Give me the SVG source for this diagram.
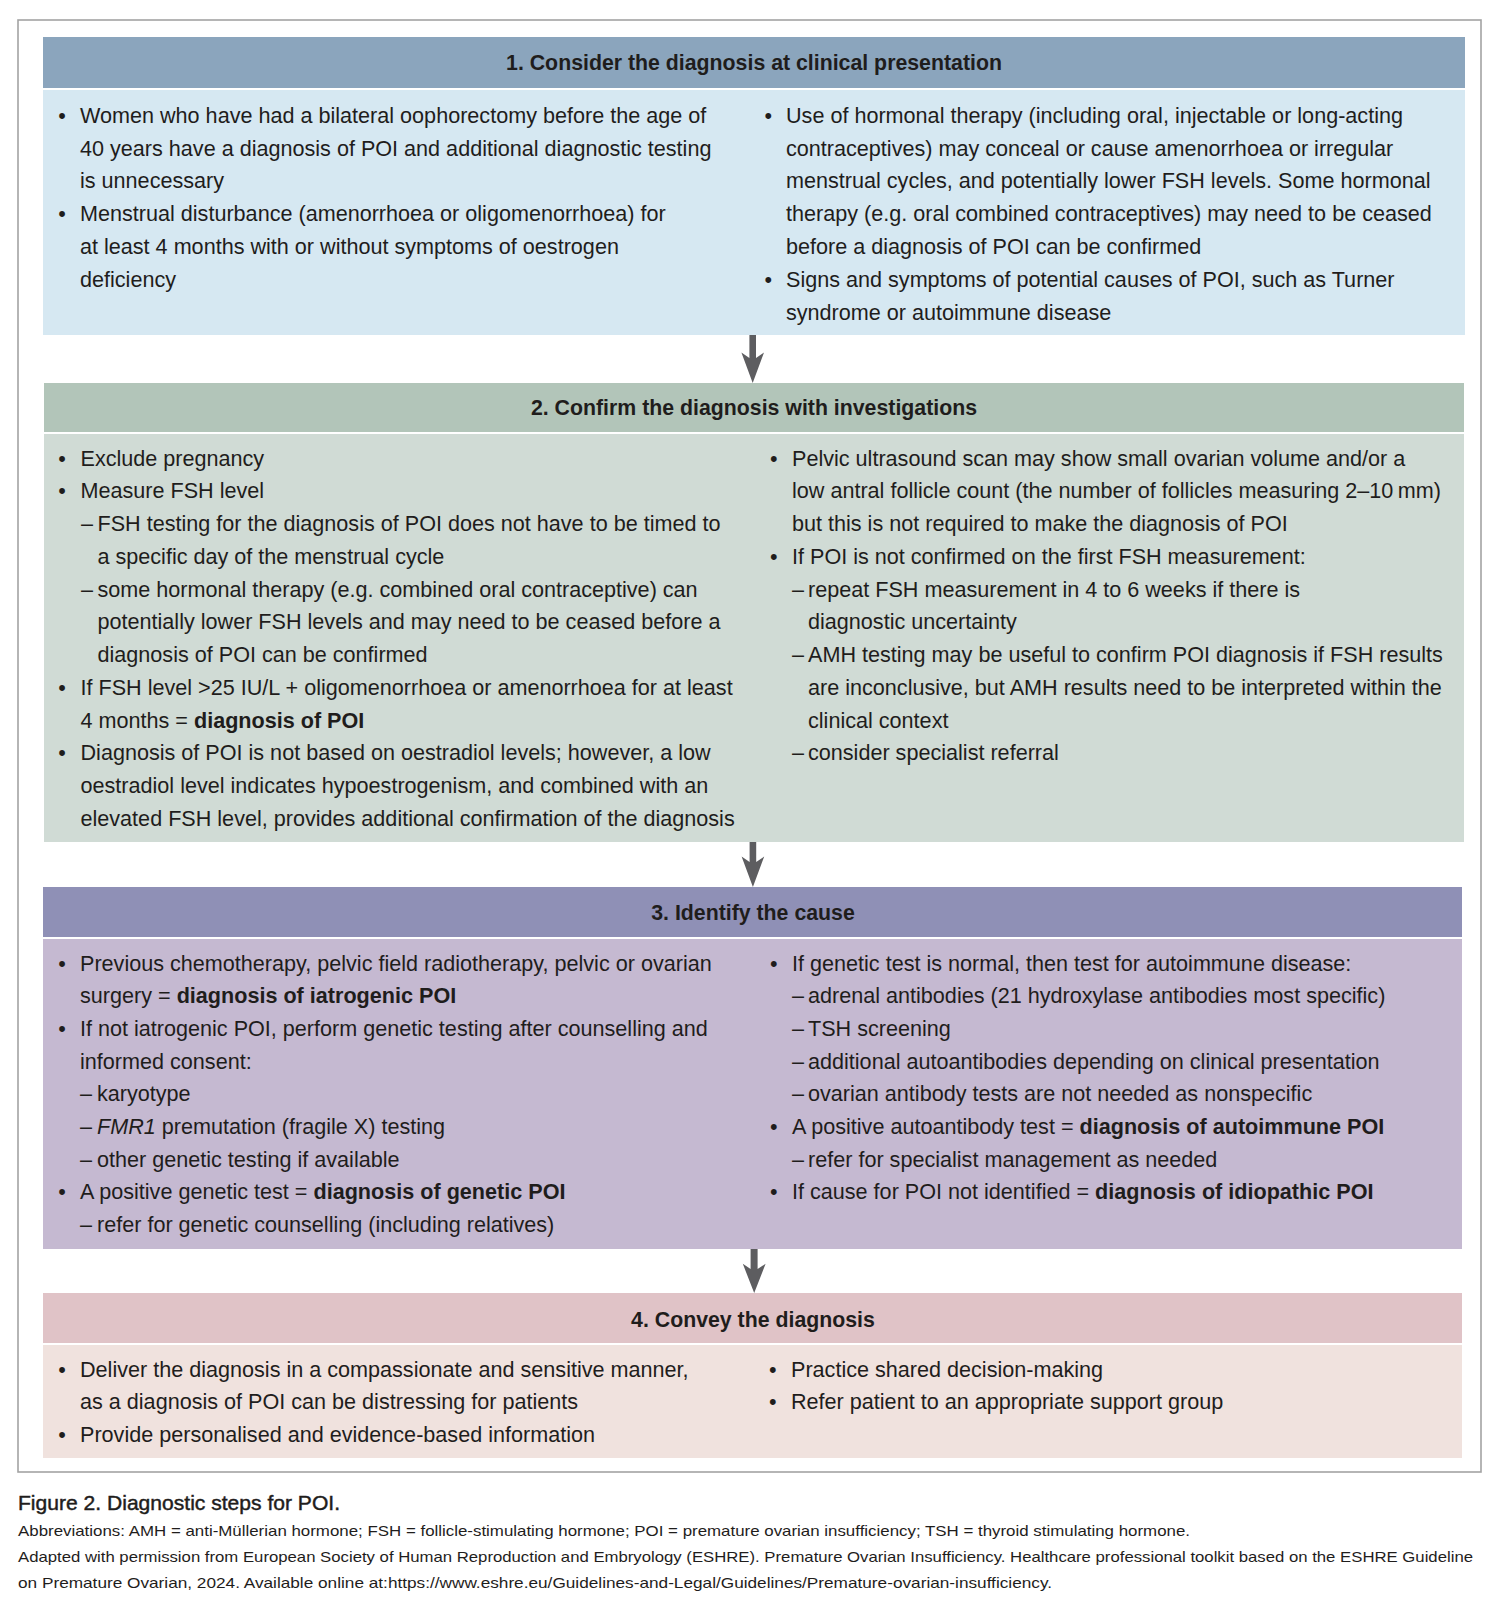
<svg xmlns="http://www.w3.org/2000/svg" width="1500" height="1612" viewBox="0 0 1500 1612">
<style>
.h{font-family:"Liberation Sans",Arial,sans-serif;font-size:21.3px;font-weight:bold;fill:#1f1d1c;text-anchor:middle}
.t{font-family:"Liberation Sans",Arial,sans-serif;font-size:21.6px;fill:#1f1d1c}
.b{font-weight:bold}
.i{font-style:italic}
.cap{font-family:"Liberation Sans",Arial,sans-serif;font-size:21px;fill:#1f1d1c;stroke:#1f1d1c;stroke-width:0.45px}
.fn{font-family:"Liberation Sans",Arial,sans-serif;font-size:15px;fill:#1f1d1c}
.arrow{fill:#5d5d60}
</style>
<rect width="1500" height="1612" fill="#ffffff"/>
<rect x="18" y="20" width="1463" height="1452" fill="none" stroke="#a3a3a3" stroke-width="1.6"/>

<g id="step1">
<rect x="43" y="37" width="1422" height="51" fill="#8ba5bd"/>
<rect x="43" y="90" width="1422" height="245" fill="#d6e8f2"/>
<text class="h" x="754" y="70">1. Consider the diagnosis at clinical presentation</text>
<text class="t" y="122.7"><tspan x="58.2">•</tspan><tspan x="80">Women who have had a bilateral oophorectomy before the age of</tspan></text>
<text class="t" x="80" y="155.5">40 years have a diagnosis of POI and additional diagnostic testing</text>
<text class="t" x="80" y="188.3">is unnecessary</text>
<text class="t" y="221.1"><tspan x="58.2">•</tspan><tspan x="80">Menstrual disturbance (amenorrhoea or oligomenorrhoea) for</tspan></text>
<text class="t" x="80" y="253.9">at least 4 months with or without symptoms of oestrogen</text>
<text class="t" x="80" y="286.7">deficiency</text>
<text class="t" y="122.7"><tspan x="764.5">•</tspan><tspan x="786">Use of hormonal therapy (including oral, injectable or long-acting</tspan></text>
<text class="t" x="786" y="155.5">contraceptives) may conceal or cause amenorrhoea or irregular</text>
<text class="t" x="786" y="188.3">menstrual cycles, and potentially lower FSH levels. Some hormonal</text>
<text class="t" x="786" y="221.1">therapy (e.g. oral combined contraceptives) may need to be ceased</text>
<text class="t" x="786" y="253.9">before a diagnosis of POI can be confirmed</text>
<text class="t" y="286.7"><tspan x="764.5">•</tspan><tspan x="786">Signs and symptoms of potential causes of POI, such as Turner</tspan></text>
<text class="t" x="786" y="319.5">syndrome or autoimmune disease</text>
</g>

<g id="step2">
<rect x="44" y="383" width="1420" height="49" fill="#b2c5b9"/>
<rect x="44" y="434" width="1420" height="408" fill="#d0dbd5"/>
<text class="h" x="754" y="415">2. Confirm the diagnosis with investigations</text>
<text class="t" y="465.7"><tspan x="58.2">•</tspan><tspan x="80.5">Exclude pregnancy</tspan></text>
<text class="t" y="498.45"><tspan x="58.2">•</tspan><tspan x="80.5">Measure FSH level</tspan></text>
<text class="t" y="531.2"><tspan x="81">–</tspan><tspan x="97.5">FSH testing for the diagnosis of POI does not have to be timed to</tspan></text>
<text class="t" x="97.5" y="563.95">a specific day of the menstrual cycle</text>
<text class="t" y="596.7"><tspan x="81">–</tspan><tspan x="97.5">some hormonal therapy (e.g. combined oral contraceptive) can</tspan></text>
<text class="t" x="97.5" y="629.45">potentially lower FSH levels and may need to be ceased before a</text>
<text class="t" x="97.5" y="662.2">diagnosis of POI can be confirmed</text>
<text class="t" y="694.95"><tspan x="58.2">•</tspan><tspan x="80.5">If FSH level &gt;25 IU/L + oligomenorrhoea or amenorrhoea for at least</tspan></text>
<text class="t" x="80.5" y="727.7">4 months = <tspan class="b">diagnosis of POI</tspan></text>
<text class="t" y="760.45"><tspan x="58.2">•</tspan><tspan x="80.5">Diagnosis of POI is not based on oestradiol levels; however, a low</tspan></text>
<text class="t" x="80.5" y="793.2">oestradiol level indicates hypoestrogenism, and combined with an</text>
<text class="t" x="80.5" y="825.95">elevated FSH level, provides additional confirmation of the diagnosis</text>
<text class="t" y="465.7"><tspan x="770">•</tspan><tspan x="792">Pelvic ultrasound scan may show small ovarian volume and/or a</tspan></text>
<text class="t" x="792" y="498.45">low antral follicle count (the number of follicles measuring 2–10&#8201;mm)</text>
<text class="t" x="792" y="531.2">but this is not required to make the diagnosis of POI</text>
<text class="t" y="563.95"><tspan x="770">•</tspan><tspan x="792">If POI is not confirmed on the first FSH measurement:</tspan></text>
<text class="t" y="596.7"><tspan x="792">–</tspan><tspan x="808">repeat FSH measurement in 4 to 6 weeks if there is</tspan></text>
<text class="t" x="808" y="629.45">diagnostic uncertainty</text>
<text class="t" y="662.2"><tspan x="792">–</tspan><tspan x="808">AMH testing may be useful to confirm POI diagnosis if FSH results</tspan></text>
<text class="t" x="808" y="694.95">are inconclusive, but AMH results need to be interpreted within the</text>
<text class="t" x="808" y="727.7">clinical context</text>
<text class="t" y="760.45"><tspan x="792">–</tspan><tspan x="808">consider specialist referral</tspan></text>
</g>

<g id="step3">
<rect x="43" y="887" width="1419" height="50" fill="#8f90b6"/>
<rect x="43" y="939" width="1419" height="310" fill="#c5b9d1"/>
<text class="h" x="753" y="920">3. Identify the cause</text>
<text class="t" y="970.5"><tspan x="58.2">•</tspan><tspan x="80">Previous chemotherapy, pelvic field radiotherapy, pelvic or ovarian</tspan></text>
<text class="t" x="80" y="1003.2">surgery = <tspan class="b">diagnosis of iatrogenic POI</tspan></text>
<text class="t" y="1035.9"><tspan x="58.2">•</tspan><tspan x="80">If not iatrogenic POI, perform genetic testing after counselling and</tspan></text>
<text class="t" x="80" y="1068.6">informed consent:</text>
<text class="t" y="1101.3"><tspan x="80">–</tspan><tspan x="97">karyotype</tspan></text>
<text class="t" y="1134"><tspan x="80">–</tspan><tspan x="97" class="i">FMR1</tspan><tspan> premutation (fragile X) testing</tspan></text>
<text class="t" y="1166.7"><tspan x="80">–</tspan><tspan x="97">other genetic testing if available</tspan></text>
<text class="t" y="1199.4"><tspan x="58.2">•</tspan><tspan x="80">A positive genetic test = </tspan><tspan class="b">diagnosis of genetic POI</tspan></text>
<text class="t" y="1232.1"><tspan x="80">–</tspan><tspan x="97">refer for genetic counselling (including relatives)</tspan></text>
<text class="t" y="970.5"><tspan x="770">•</tspan><tspan x="792">If genetic test is normal, then test for autoimmune disease:</tspan></text>
<text class="t" y="1003.2"><tspan x="792">–</tspan><tspan x="808">adrenal antibodies (21 hydroxylase antibodies most specific)</tspan></text>
<text class="t" y="1035.9"><tspan x="792">–</tspan><tspan x="808">TSH screening</tspan></text>
<text class="t" y="1068.6"><tspan x="792">–</tspan><tspan x="808">additional autoantibodies depending on clinical presentation</tspan></text>
<text class="t" y="1101.3"><tspan x="792">–</tspan><tspan x="808">ovarian antibody tests are not needed as nonspecific</tspan></text>
<text class="t" y="1134"><tspan x="770">•</tspan><tspan x="792">A positive autoantibody test = </tspan><tspan class="b">diagnosis of autoimmune POI</tspan></text>
<text class="t" y="1166.7"><tspan x="792">–</tspan><tspan x="808">refer for specialist management as needed</tspan></text>
<text class="t" y="1199.4"><tspan x="770">•</tspan><tspan x="792">If cause for POI not identified = </tspan><tspan class="b">diagnosis of idiopathic POI</tspan></text>
</g>

<g id="step4">
<rect x="43" y="1293" width="1419" height="50" fill="#e0c3c7"/>
<rect x="43" y="1345" width="1419" height="113" fill="#f0e2de"/>
<text class="h" x="753" y="1327">4. Convey the diagnosis</text>
<text class="t" y="1377"><tspan x="58.2">•</tspan><tspan x="80">Deliver the diagnosis in a compassionate and sensitive manner,</tspan></text>
<text class="t" x="80" y="1409.4">as a diagnosis of POI can be distressing for patients</text>
<text class="t" y="1441.8"><tspan x="58.2">•</tspan><tspan x="80">Provide personalised and evidence-based information</tspan></text>
<text class="t" y="1377"><tspan x="769">•</tspan><tspan x="791">Practice shared decision-making</tspan></text>
<text class="t" y="1409.4"><tspan x="769">•</tspan><tspan x="791">Refer patient to an appropriate support group</tspan></text>
</g>

<g id="connectors">
<path class="arrow" d="M749.4 335 H756 V358 L764 352.5 L752.7 383 L741.4 352.5 L749.4 358 Z"/>
<path class="arrow" d="M749.6 842 H756.2 V862 L764.2 856.5 L752.9 887 L741.6 856.5 L749.6 862 Z"/>
<path class="arrow" d="M750.6 1249 H757.6 V1269 L765.6 1263.8 L754.2 1293 L742.8 1263.8 L750.6 1269 Z"/>
</g>

<g id="caption">
<text class="cap" x="18" y="1509.5" textLength="322" lengthAdjust="spacingAndGlyphs">Figure 2. Diagnostic steps for POI.</text>
<text class="fn" x="18" y="1535.7" textLength="1172" lengthAdjust="spacingAndGlyphs">Abbreviations: AMH = anti-Müllerian hormone; FSH = follicle-stimulating hormone; POI = premature ovarian insufficiency; TSH = thyroid stimulating hormone.</text>
<text class="fn" x="18" y="1561.7" textLength="1455" lengthAdjust="spacingAndGlyphs">Adapted with permission from European Society of Human Reproduction and Embryology (ESHRE). Premature Ovarian Insufficiency. Healthcare professional toolkit based on the ESHRE Guideline</text>
<text class="fn" x="18" y="1588" textLength="1034" lengthAdjust="spacingAndGlyphs">on Premature Ovarian, 2024. Available online at:https://www.eshre.eu/Guidelines-and-Legal/Guidelines/Premature-ovarian-insufficiency.</text>
</g>
</svg>
